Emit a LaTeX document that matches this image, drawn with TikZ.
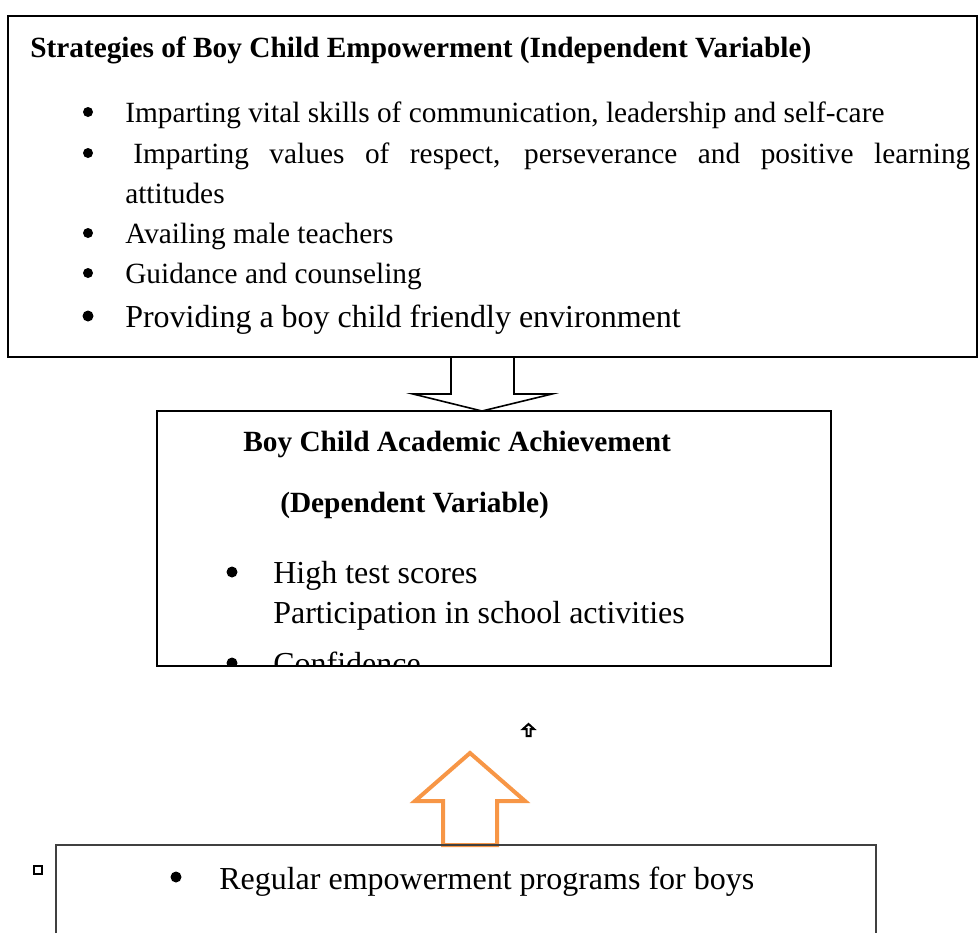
\documentclass[tikz,border=0pt]{standalone}
\usepackage{fontspec}
\setmainfont{Liberation Serif}
\definecolor{arroworange}{HTML}{F79646}
\definecolor{darkline}{HTML}{404040}
\tikzset{
  boxline/.style={draw=black, line width=1.5pt},
  txt/.style={inner sep=0pt, anchor=base west, font=\fontsize{22}{26}\selectfont},
  bigtxt/.style={inner sep=0pt, anchor=base west, font=\fontsize{24}{28}\selectfont},
  bul/.style={fill=black, draw=none},
  blockarrow/.style={draw=black, line width=1.2pt, line join=miter},
  orangearrow/.style={draw=arroworange, line width=3pt, line join=miter}
}
\begin{document}
\begin{tikzpicture}[x=0.75pt,y=-0.75pt]
\useasboundingbox (0,0) rectangle (978,933);
% top box
\coordinate (tnw) at (8,16);
\coordinate (tse) at (977,357);
\draw[boxline] (tnw) rectangle (tse);
\node[txt] (title) at (30,57) {\textbf{Strategies of Boy Child Empowerment (Independent Variable)}};
\fill[bul] (88,112) circle (5);
\node[txt] (i1) at (125,122) {Imparting vital skills of communication, leadership and self-care};
\fill[bul] (88,153) circle (5);
\node[txt] (i2) at (133,163) {\makebox[627.75pt][s]{Imparting values of respect, perseverance and positive learning}};
\node[txt] (i2b) at (125,203) {attitudes};
\fill[bul] (88,233) circle (5);
\node[txt] (i3) at (125,243) {Availing male teachers};
\fill[bul] (88,273) circle (5);
\node[txt] (i4) at (125,283) {Guidance and counseling};
\fill[bul] (88,316) circle (5.5);
\node[bigtxt] (i5) at (125,327) {Providing a boy child friendly environment};
% down block arrow
\coordinate (da1) at (451,357);
\coordinate (da7) at (514,357);
\draw[blockarrow] (da1) -- (451,394) -- (413,394) -- (482,411) -- (552,394) -- (514,394) -- (da7);
% middle box
\coordinate (mnw) at (157,411);
\coordinate (mse) at (831,666);
\begin{scope}
\clip (mnw) rectangle (mse);
\node[txt] (m1) at (243,451) {\textbf{Boy Child Academic Achievement}};
\node[txt] (m2) at (280,512) {\textbf{(Dependent Variable)}};
\fill[bul] (232,572) circle (5.5);
\node[bigtxt] (m3) at (273,583) {High test scores};
\node[bigtxt] (m4) at (273,623) {Participation in school activities};
\fill[bul] (232,663) circle (5.5);
\node[bigtxt] (m5) at (273,674) {Confidence};
\end{scope}
\draw[boxline] (mnw) rectangle (mse);
% tiny up arrow
\draw[draw=black, line width=1.5pt, line join=miter] (526.5,736) -- (526.5,729) -- (523,729) -- (528.5,724) -- (534,729) -- (530.5,729) -- (530.5,736) -- cycle;
% orange block arrow
\draw[orangearrow] (443,845) -- (443,801) -- (415,801) -- (470,753) -- (525,801) -- (497,801) -- (497,845) -- cycle;
% bottom box
\draw[draw=darkline, line width=1.5pt] (56,933) -- (56,845) -- (876,845) -- (876,933);
\fill[bul] (176,877) circle (5.5);
\node[bigtxt] (b1) at (219,889) {Regular empowerment programs for boys};
% small square
\draw[black, line width=1.2pt] (34,866) rectangle (42,874);
\end{tikzpicture}
\end{document}
